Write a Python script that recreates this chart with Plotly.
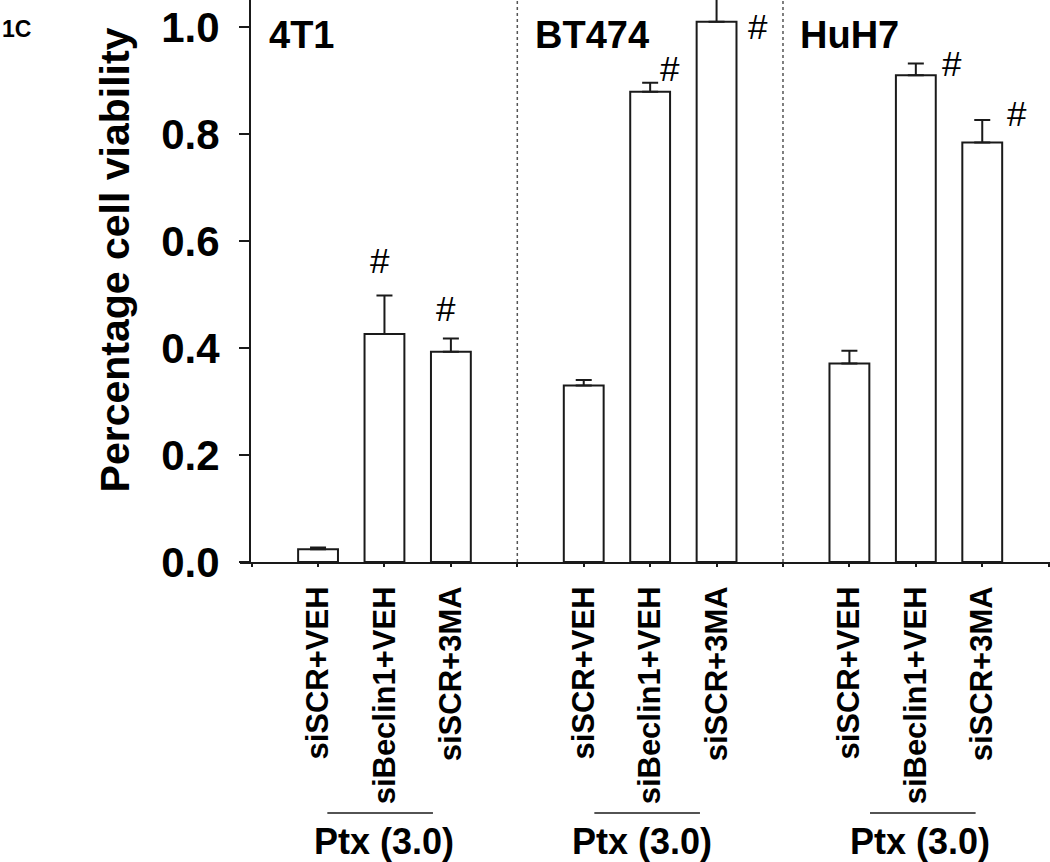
import plotly.graph_objects as go

# ---------------- data ----------------
cell_lines = ["4T1", "BT474", "HuH7"]
treatments = ["siSCR+VEH", "siBeclin1+VEH", "siSCR+3MA"]
viability_4T1 = [0.024, 0.426, 0.393]
sem_4T1 = [0.003, 0.072, 0.025]
viability_BT474 = [0.330, 0.879, 1.010]
sem_BT474 = [0.010, 0.017, 0.060]
viability_HuH7 = [0.371, 0.910, 0.784]
sem_HuH7 = [0.024, 0.022, 0.042]
significant_4T1 = [False, True, True]
significant_BT474 = [False, True, True]
significant_HuH7 = [False, True, True]
drug_label = "Ptx (3.0)"
y_tick_values = [0.0, 0.2, 0.4, 0.6, 0.8, 1.0]
y_title = "Percentage cell viability"
panel_label = "1C"

values = [viability_4T1, viability_BT474, viability_HuH7]
errors = [sem_4T1, sem_BT474, sem_HuH7]
signif = [significant_4T1, significant_BT474, significant_HuH7]

FONT = "Arial, 'Liberation Sans', sans-serif"
INK = "#1a1a1a"

# layout helpers (style only): offset of each "#" from the bar top
hash_offsets = [
    [(0, 0), (-0.07, 0.138), (-0.08, 0.081)],
    [(0, 0), (0.30, 0.043), (0.63, -0.009)],
    [(0, 0), (0.55, 0.022), (0.53, 0.055)],
]
bracket_span = [(-0.86, 0.73), (-0.84, 0.75), (-0.69, 0.90)]
drug_dx = [0.0, -0.13, 0.07]

fig = go.Figure()

tickvals = list(range(13))
ticktext = [""] * 13
annotations = []
shapes = []

for g, line in enumerate(cell_lines):
    xs = [4 * g + 1 + i for i in range(len(treatments))]
    for i, x in enumerate(xs):
        ticktext[x] = treatments[i]
    fig.add_trace(go.Bar(
        x=xs, y=values[g], width=0.6, name=line,
        marker=dict(color="white", line=dict(color=INK, width=2)),
        error_y=dict(type="data", symmetric=False, array=errors[g],
                     arrayminus=[0] * len(xs), color=INK, thickness=2, width=8),
        showlegend=False, hoverinfo="skip",
    ))
    # significance marks
    for i, x in enumerate(xs):
        if signif[g][i]:
            dx, dy = hash_offsets[g][i]
            annotations.append(dict(
                x=x + dx, y=values[g][i] + dy, xref="x", yref="y",
                text="#", showarrow=False, yanchor="middle", xanchor="center",
                font=dict(family=FONT, size=35, color="black")))
    # cell line label
    annotations.append(dict(
        x=4 * g + 0.23, y=0.985, xref="x", yref="y", text="<b>%s</b>" % line,
        showarrow=False, xanchor="left", yanchor="middle",
        font=dict(family=FONT, size=38, color="black")))
    # bracket + drug label
    mid = xs[1]
    shapes.append(dict(type="line", xref="x", yref="paper",
                       x0=mid + bracket_span[g][0], x1=mid + bracket_span[g][1],
                       y0=-0.4466, y1=-0.4466, line=dict(color=INK, width=1.5)))
    annotations.append(dict(
        x=mid + drug_dx[g], y=-0.497, xref="x", yref="paper",
        text="<b>%s</b>" % drug_label, showarrow=False,
        xanchor="center", yanchor="middle",
        font=dict(family=FONT, size=36, color="black")))
    # dotted separators
    if g > 0:
        shapes.append(dict(type="line", xref="x", yref="paper",
                           x0=4 * g, x1=4 * g, y0=0, y1=1,
                           line=dict(color="#555555", width=1.5, dash="dot")))

annotations.append(dict(
    x=-0.154, y=0.537, xref="paper", yref="paper", text="<b>%s</b>" % y_title,
    textangle=-90, showarrow=False, xanchor="center", yanchor="middle",
    font=dict(family=FONT, size=41, color="black")))
annotations.append(dict(
    x=-0.296, y=0.948, xref="paper", yref="paper", text="<b>%s</b>" % panel_label,
    showarrow=False, xanchor="left", yanchor="middle",
    font=dict(family=FONT, size=23, color="black")))

fig.update_layout(
    width=1050, height=862,
    margin=dict(l=240, r=0, t=0, b=300, pad=0),
    paper_bgcolor="white", plot_bgcolor="white",
    bargap=0, hovermode=False,
    xaxis=dict(range=[-0.175, 12.02], tickmode="array", tickvals=tickvals,
               ticktext=ticktext, tickangle=-90, showline=True, linecolor=INK,
               linewidth=2, ticks="outside", ticklen=3, tickwidth=2,
               tickcolor=INK, showgrid=False, zeroline=False, automargin=False,
               ticklabelstandoff=7,
               tickfont=dict(family=FONT, size=31, color="black", weight="bold")),
    yaxis=dict(range=[0, 1.0505], anchor="free", position=10 / 810,
               tickmode="array", tickvals=y_tick_values, tickformat=".1f",
               showline=True, linecolor=INK, linewidth=2, ticks="outside",
               ticklen=10, tickwidth=2, tickcolor=INK, showgrid=False,
               zeroline=False, ticklabelstandoff=11, automargin=False,
               tickfont=dict(family=FONT, size=42, color="black", weight="bold")),
    annotations=annotations, shapes=shapes,
)

fig.write_html(
    "out.html",
    config={"displayModeBar": False, "staticPlot": True},
    post_script="document.body.style.margin='0';document.body.style.overflow='hidden';",
)
